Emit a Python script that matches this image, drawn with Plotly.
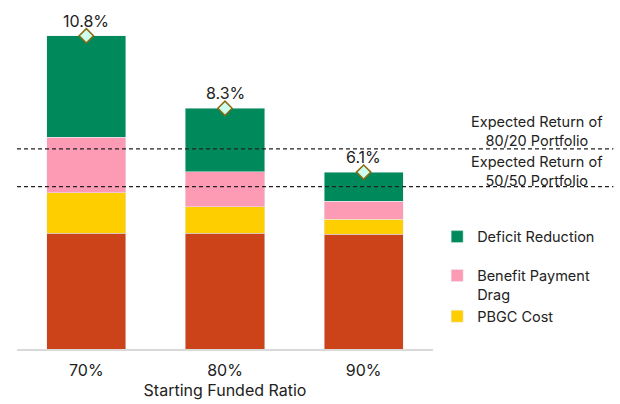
import plotly.graph_objects as go

categories = ["70%", "80%", "90%"]
base_return = [4.0, 4.0, 3.95]
pbgc_cost = [1.38, 0.9, 0.53]
benefit_drag = [1.93, 1.21, 0.62]
deficit_reduction = [3.49, 2.19, 1.0]
totals = [10.8, 8.3, 6.1]
total_labels = ["10.8%", "8.3%", "6.1%"]
ret_8020 = 6.9
ret_5050 = 5.6

FONT = "Inter"
fig = go.Figure()
W = 0.57
fig.add_trace(go.Bar(x=categories, y=base_return, marker_color="#CC4319", width=W,
                     showlegend=False, name="Base"))
fig.add_trace(go.Bar(x=categories, y=pbgc_cost, marker_color="#FFCE00", width=W,
                     name="PBGC Cost", legendgroup="g2", legendrank=3))
fig.add_trace(go.Bar(x=categories, y=benefit_drag, marker_color="#FD9BB4", width=W,
                     name="Benefit Payment<br>Drag", legendgroup="g2", legendrank=2))
fig.add_trace(go.Bar(x=categories, y=deficit_reduction, marker_color="#008A5C", width=W,
                     name="Deficit Reduction", legendgroup="g1", legendrank=1))
fig.add_trace(go.Scatter(x=categories, y=totals, mode="markers", showlegend=False,
                         marker=dict(symbol="diamond", size=11, color="#CCFFEE",
                                     line=dict(color="#8B6B10", width=1.5)),
                         cliponaxis=False))
for c, t, lab in zip(categories, totals, total_labels):
    fig.add_annotation(x=c, y=t, text=lab, showarrow=False, yshift=15, xanchor="center",
                       yanchor="middle", font=dict(family=FONT, size=16, color="#222"))

x1 = (613 - 17) / 415.75
for yv in (ret_8020, ret_5050):
    fig.add_shape(type="line", xref="paper", x0=0, x1=x1, yref="y", y0=yv, y1=yv,
                  line=dict(color="#222", width=1.2, dash="4px,3px"))

ax = (537 - 17) / 415.75
fig.add_annotation(xref="paper", x=ax, xanchor="center", yref="y", y=ret_8020, yanchor="bottom",
                   text="Expected Return of<br>80/20 Portfolio", showarrow=False,
                   font=dict(family=FONT, size=14.5, color="#222"), yshift=-2)
fig.add_annotation(xref="paper", x=ax, xanchor="center", yref="y", y=ret_5050, yanchor="bottom",
                   text="Expected Return of<br>50/50 Portfolio", showarrow=False,
                   font=dict(family=FONT, size=14.5, color="#222"), yshift=-4)

fig.update_layout(
    width=620, height=404,
    margin=dict(l=17, r=187.25, t=20, b=55, autoexpand=False),
    barmode="stack",
    paper_bgcolor="white", plot_bgcolor="white",
    font=dict(family=FONT, size=14.5, color="#222"),
    legend=dict(x=1.01, xanchor="left", y=0.39, yanchor="top",
                traceorder="grouped", tracegroupgap=17, valign="top",
                font=dict(family=FONT, size=14.5, color="#222")),
    xaxis=dict(range=[-0.5, 2.5], showline=True, linecolor="#D9D9D9", linewidth=1.5,
               ticks="", showgrid=False, ticklabelstandoff=6, automargin=False,
               tickfont=dict(family=FONT, size=16, color="#222"),
               title=dict(text="Starting Funded Ratio", standoff=6,
                          font=dict(family=FONT, size=16, color="#222"))),
    yaxis=dict(range=[0, 11.345], visible=False, automargin=False),
)

fig.write_html("out.html", config={"displayModeBar": False},
               post_script="document.body.style.margin='0';document.body.style.padding='0';")
